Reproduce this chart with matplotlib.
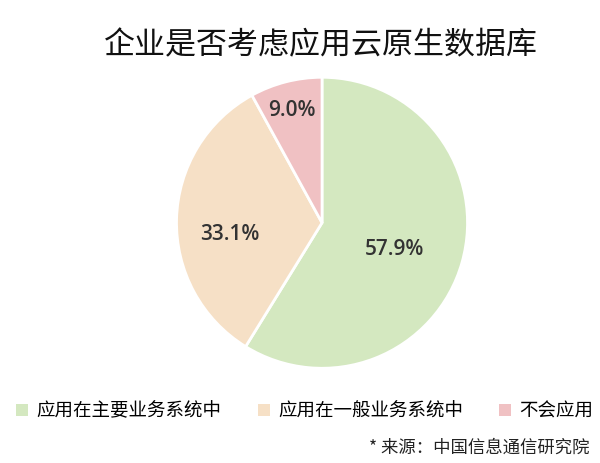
import matplotlib.pyplot as plt
import numpy as np
from matplotlib.patches import Patch

plt.rcParams["font.family"] = ["Noto Sans CJK SC", "DejaVu Sans"]

title = "企业是否考虑应用云原生数据库"
categories = ["应用在主要业务系统中", "应用在一般业务系统中", "不会应用"]
# wedge sizes as drawn in the picture; the printed labels differ slightly
wedge_sizes = [58.8, 33.2, 8.0]
pct_labels = ["57.9%", "33.1%", "9.0%"]
source_note = "* 来源：中国信息通信研究院"

colors = ["#d4e8c0", "#f6e0c6", "#f0c1c3"]
label_dist = [0.52, 0.636, 0.83]
label_nudge = [-0.04, -0.095, -0.03]

fig = plt.figure(figsize=(6.0, 4.63), dpi=100)
ax = fig.add_axes([0.2942, 0.2046, 0.4850, 0.6285])

wedges, _ = ax.pie(
    wedge_sizes,
    colors=colors,
    startangle=90,
    counterclock=False,
    wedgeprops={"edgecolor": "white", "linewidth": 2.0},
    radius=1.0,
)
ax.set_xlim(-1.0, 1.0)
ax.set_ylim(-1.0, 1.0)
ax.set_aspect("equal")

for wedge, label, dist, nudge in zip(wedges, pct_labels, label_dist, label_nudge):
    mid = np.deg2rad((wedge.theta1 + wedge.theta2) / 2.0)
    ax.text(
        dist * np.cos(mid),
        dist * np.sin(mid) + nudge,
        label,
        ha="center",
        va="center",
        fontsize=15,
        family=["Open Sans", "DejaVu Sans"],
        fontweight="semibold",
        color="#333333",
    )

fig.text(0.535, 0.902, title, ha="center", va="center", fontsize=22.3, color="#111111")

handles = [Patch(facecolor=c, edgecolor="none") for c in colors]
fig.legend(
    handles,
    categories,
    loc="center",
    bbox_to_anchor=(0.508, 0.111),
    ncol=3,
    frameon=False,
    fontsize=13.3,
    handlelength=0.65,
    handleheight=0.65,
    handletextpad=0.45,
    columnspacing=1.95,
)

fig.text(0.983, 0.032, source_note, ha="right", va="center", fontsize=12.5, color="#222222")

fig.savefig("out.png", dpi=100)
